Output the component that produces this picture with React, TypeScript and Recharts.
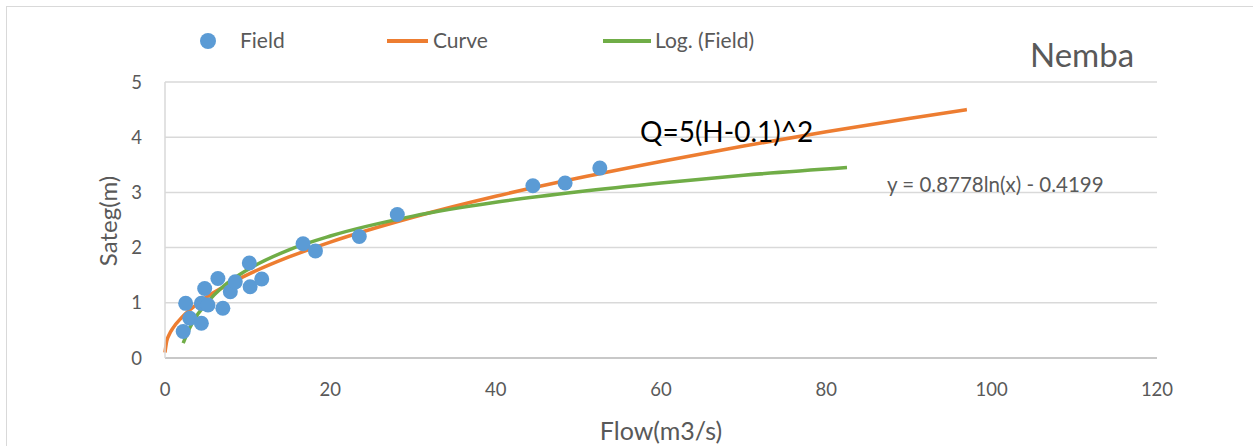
import { ComposedChart, Line, Scatter, XAxis, YAxis, CartesianGrid, Legend } from 'recharts';

// field measurements (flow m3/s, stage m)
const fieldFlow = [2.2, 2.5, 3.0, 4.4, 4.4, 4.8, 5.2, 6.4, 7.0, 7.9, 8.5, 10.2, 10.3, 11.7, 16.7, 18.2, 23.5, 28.1, 44.5, 48.4, 52.6];
const fieldStage = [0.48, 0.99, 0.72, 0.63, 0.99, 1.26, 0.96, 1.44, 0.9, 1.2, 1.38, 1.72, 1.29, 1.43, 2.07, 1.94, 2.2, 2.6, 3.12, 3.17, 3.44];

// rating curve
const curveFlow = [0, 0.2, 0.5, 1, 2, 3, 5, 7.5, 10, 15, 20, 30, 40, 50, 60, 70, 80, 90, 97];
const curveStage = [0.1, 0.3, 0.42, 0.55, 0.73, 0.87, 1.1, 1.32, 1.51, 1.83, 2.1, 2.55, 2.93, 3.26, 3.56, 3.84, 4.1, 4.34, 4.5];

// log trendline
const logFlow = [2.2, 3, 4, 5, 7, 10, 15, 20, 30, 40, 50, 60, 70, 82.5];
const logStage = [0.27, 0.55, 0.8, 0.99, 1.29, 1.6, 1.96, 2.21, 2.57, 2.82, 3.01, 3.17, 3.31, 3.45];

const xTicks = [0, 20, 40, 60, 80, 100, 120];
const yTicks = [0, 1, 2, 3, 4, 5];

const fieldData = fieldFlow.map((x, i) => ({ x, y: fieldStage[i] }));
const curveData = curveFlow.map((x, i) => ({ x, y: curveStage[i] }));
const logData = logFlow.map((x, i) => ({ x, y: logStage[i] }));

const FONT = 'Lato, "Noto Sans", sans-serif';
const GREY = '#595959';

function ChartLegend() {
  return (
    <div style={{ position: 'relative', width: 1253, height: 30, fontFamily: FONT, fontSize: 21, color: GREY }}>
      <svg width={20} height={20} style={{ position: 'absolute', left: 198, top: 5 }}>
        <circle cx={10} cy={10} r={8} fill="#5B9BD5" />
      </svg>
      <span style={{ position: 'absolute', left: 240, top: 1 }}>Field</span>
      <div style={{ position: 'absolute', left: 387, top: 13, width: 41, height: 3.5, background: '#ED7D31' }} />
      <span style={{ position: 'absolute', left: 433, top: 1 }}>Curve</span>
      <div style={{ position: 'absolute', left: 603, top: 13, width: 48, height: 3.5, background: '#70AD47' }} />
      <span style={{ position: 'absolute', left: 655, top: 1 }}>Log. (Field)</span>
    </div>
  );
}

export default function App() {
  return (
    <div style={{ position: 'absolute', left: 0, top: 0, width: 1253, height: 446, overflow: 'hidden', background: '#fff' }}>
      <div style={{ position: 'absolute', left: 6, top: 6, width: 1270, height: 470, border: '1px solid #D9D9D9' }} />
      {/* legend height (30) is taken off the bottom by recharts, so bottom margin is 88 - 30 - 30 */}
      <ComposedChart width={1253} height={446} margin={{ top: 82, right: 96, bottom: 28, left: 105 }}>
        <CartesianGrid vertical={false} stroke="#D9D9D9" strokeWidth={1.5} />
        <XAxis
          type="number"
          dataKey="x"
          domain={[0, 120]}
          ticks={xTicks}
          height={30}
          tickSize={0}
          tickMargin={25}
          tickLine={false}
          axisLine={{ stroke: '#BFBFBF', strokeWidth: 1.5 }}
          tick={{ fill: GREY, fontSize: 18.5, fontFamily: FONT }}
        />
        <YAxis
          type="number"
          dataKey="y"
          domain={[0, 5]}
          ticks={yTicks}
          width={60}
          tickSize={0}
          tickMargin={23}
          tickLine={false}
          axisLine={{ stroke: '#D9D9D9', strokeWidth: 1.5 }}
          tick={{ fill: GREY, fontSize: 18.5, fontFamily: FONT }}
        />
        <Legend content={() => <ChartLegend />} wrapperStyle={{ position: 'absolute', left: 0, top: 26 }} />
        <Line data={curveData} dataKey="y" name="Curve" type="monotone" stroke="#ED7D31" strokeWidth={3.5} dot={false} isAnimationActive={false} />
        <Scatter
          data={fieldData}
          dataKey="y"
          name="Field"
          fill="#5B9BD5"
          isAnimationActive={false}
          shape={(p: any) => <circle cx={p.cx} cy={p.cy} r={7.5} fill="#5B9BD5" />}
        />
        <Line data={logData} dataKey="y" name="Log. (Field)" type="monotone" stroke="#70AD47" strokeWidth={3.5} dot={false} isAnimationActive={false} />
      </ComposedChart>
      <div style={{ position: 'absolute', left: 1030, top: 38, fontFamily: FONT, fontSize: 33, color: GREY, lineHeight: 1 }}>Nemba</div>
      <div style={{ position: 'absolute', left: 640, top: 117, fontFamily: FONT, fontSize: 28, color: '#000', lineHeight: 1 }}>Q=5(H-0.1)^2</div>
      <div style={{ position: 'absolute', left: 887, top: 174, fontFamily: FONT, fontSize: 20.5, color: GREY, lineHeight: 1 }}>y = 0.8778ln(x) - 0.4199</div>
      <div
        style={{
          position: 'absolute',
          left: 108,
          top: 221,
          transform: 'translate(-50%, -50%) rotate(-90deg)',
          fontFamily: FONT,
          fontSize: 24,
          color: GREY,
          whiteSpace: 'nowrap',
          lineHeight: 1,
        }}
      >
        Sateg(m)
      </div>
      <div
        style={{
          position: 'absolute',
          left: 661,
          top: 430,
          transform: 'translate(-50%, -50%)',
          fontFamily: FONT,
          fontSize: 25,
          color: GREY,
          whiteSpace: 'nowrap',
          lineHeight: 1,
        }}
      >
        Flow(m3/s)
      </div>
    </div>
  );
}
